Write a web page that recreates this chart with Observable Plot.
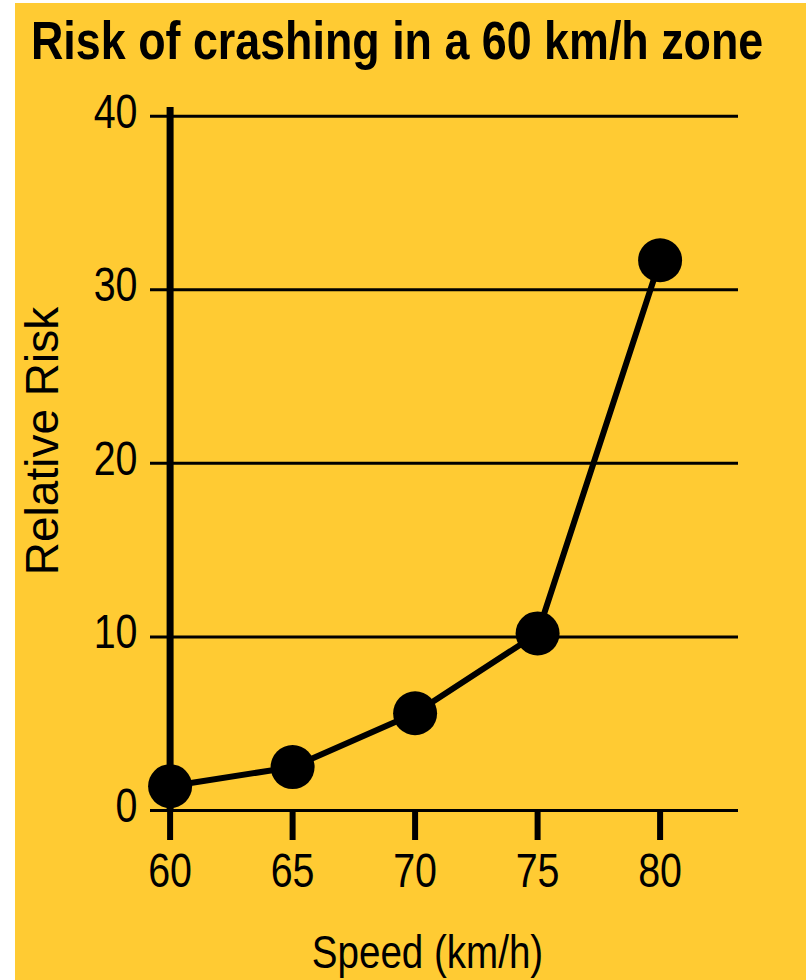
<!DOCTYPE html>
<html>
<head>
<meta charset="utf-8">
<script src="https://cdn.jsdelivr.net/npm/d3@7"></script>
<script src="https://cdn.jsdelivr.net/npm/@observablehq/plot@0.6"></script>
<style>
  html, body { margin: 0; padding: 0; background: #ffffff; }
  #wrap { position: absolute; left: 15px; top: 3px; width: 791px; height: 977px; background: #FFCB33; overflow: hidden; }
  #title { position: absolute; left: 16px; top: 10px; margin: 0; font-family: "Liberation Sans", Arial, sans-serif; font-weight: bold; font-size: 54px; line-height: 1; color: #000; white-space: nowrap; transform-origin: 0 0; }
  #chart { position: absolute; left: 0; top: 77px; }
</style>
</head>
<body>
<div id="wrap">
  <div id="title"></div>
  <div id="chart"></div>
</div>
<script>
// Data
const speeds = [60, 65, 70, 75, 80];
const relativeRisk = [1.4, 2.5, 5.6, 10.2, 31.7];
const xTicks = [60, 65, 70, 75, 80];
const yTicks = [0, 10, 20, 30, 40];
const xDomain = [59.2, 83.2];
const yDomain = [0, 40.5];
const titleText = "Risk of crashing in a 60 km/h zone";
const xLabel = "Speed (km/h)";
const yLabel = "Relative Risk";

const data = speeds.map((s, i) => ({speed: s, risk: relativeRisk[i]}));

// Title, condensed horizontally like the reference
const titleEl = document.getElementById("title");
titleEl.textContent = titleText;
titleEl.style.transform = "scaleX(0.83)";

const sans = "'Liberation Sans', Arial, sans-serif";
const squeeze = 0.82; // horizontal condensing of the reference lettering

const chart = Plot.plot({
  width: 791,
  height: 900,
  marginLeft: 135,
  marginRight: 68,
  marginTop: 27,
  marginBottom: 170,
  style: {background: "transparent", fontFamily: sans, fontSize: "48px", color: "#000", overflow: "visible"},
  x: {domain: xDomain},
  y: {domain: yDomain},
  marks: [
    Plot.ruleY(yTicks, {stroke: "#000", strokeWidth: 3}),
    Plot.ruleX([xTicks[0]], {stroke: "#000", strokeWidth: 7}),
    Plot.axisX({ticks: xTicks, tickSize: 30, tickPadding: 12, strokeWidth: 6, label: null, tickFormat: d => String(d), fill: "#000", stroke: "#000"}),
    Plot.axisY({ticks: yTicks, tickSize: 0, tickPadding: 13, label: null, tickFormat: d => String(d), fill: "#000", dy: -4}),
    Plot.line(data, {x: "speed", y: "risk", stroke: "#000", strokeWidth: 6}),
    Plot.dot(data, {x: "speed", y: "risk", r: 22, fill: "#000", stroke: "none"}),
    Plot.text([xLabel], {frameAnchor: "bottom", dx: -17, dy: 142, lineAnchor: "middle", textAnchor: "middle", fontSize: 47, fill: "#000"}),
    Plot.text([yLabel], {frameAnchor: "left", dx: -107, dy: -18, rotate: -90, lineAnchor: "middle", textAnchor: "middle", fontSize: 46, fill: "#000"})
  ]
});
document.getElementById("chart").appendChild(chart);

// Condense the horizontal texts (keeps them as real text)
chart.querySelectorAll("text").forEach(t => {
  const tr = t.getAttribute("transform") || "";
  if (tr.includes("rotate")) return;
  const len = t.getComputedTextLength();
  if (len > 0) {
    t.setAttribute("textLength", (len * squeeze).toFixed(1));
    t.setAttribute("lengthAdjust", "spacingAndGlyphs");
  }
});
</script>
</body>
</html>
